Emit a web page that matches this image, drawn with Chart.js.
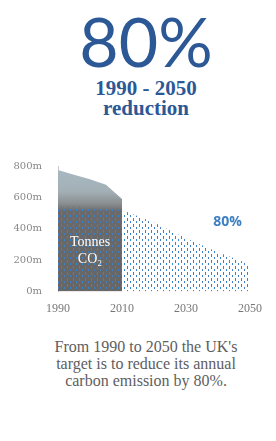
<!DOCTYPE html>
<html lang="en">
<head>
<meta charset="UTF-8">
<title>80% reduction</title>
<script src="https://cdn.jsdelivr.net/npm/chart.js"></script>
<style>
    html, body { margin: 0; padding: 0; background: #fff; }
    body { width: 276px; height: 441px; position: relative; overflow: hidden; }
    .big { position: absolute; top: 6px; left: 16px; width: 260px; text-align: center;
           font-family: Lato, sans-serif; font-size: 68px; line-height: 70px; color: #2c5896; }
    .sub { position: absolute; top: 78px; left: 16px; width: 260px; text-align: center;
           font-family: "Liberation Serif", serif; font-weight: bold;
           font-size: 21px; line-height: 20px; color: #2c5896; }
    .chart-box { position: absolute; top: 152px; left: 0; width: 276px; height: 166px; }
    .note { position: absolute; top: 338px; left: 16px; width: 260px; text-align: center;
            font-family: "Liberation Serif", serif; font-size: 16px; line-height: 17px; color: #5e5e5e; }
</style>
</head>
<body>
    <div class="big">80%</div>
    <div class="sub">1990 - 2050<br>reduction</div>
    <div class="chart-box"><canvas id="co2Chart"></canvas></div>
    <div class="note">From 1990 to 2050 the UK's<br>target is to reduce its annual<br>carbon emission by 80%.</div>

<script>
    // historical emissions (million tonnes CO2)
    const histYears = [1990, 1995, 2000, 2005, 2010];
    const histValues = [775, 745, 715, 680, 590];
    // target path
    const targetYears = [1990, 2010, 2020, 2030, 2040, 2050];
    const targetValues = [555, 520, 440, 340, 250, 175];
    const yTicks = [0, 200, 400, 600, 800];
    const xTicks = [1990, 2010, 2030, 2050];

    function dotPattern(color) {
        const c = document.createElement('canvas');
        c.width = 6; c.height = 6;
        const g = c.getContext('2d');
        g.fillStyle = color;
        g.fillRect(1, 0, 1, 3);
        g.fillRect(4, 3, 1, 2);
        return g.createPattern(c, 'repeat');
    }

    const labelsPlugin = {
        id: 'labels',
        afterDatasetsDraw(chart) {
            const ctx = chart.ctx;
            const x = chart.scales.x, y = chart.scales.y;
            ctx.save();
            ctx.textAlign = 'center';
            ctx.fillStyle = '#ffffff';
            ctx.font = '14px "Liberation Serif", serif';
            ctx.fillText('Tonnes', x.getPixelForValue(2000), y.getPixelForValue(290));
            ctx.fillText('CO\u2082', x.getPixelForValue(2000), y.getPixelForValue(185));
            ctx.fillStyle = '#3d7fc4';
            ctx.font = 'bold 14px "Open Sans", sans-serif';
            ctx.fillText('80%', x.getPixelForValue(2043), y.getPixelForValue(420));
            ctx.restore();
        }
    };

    const ctx = document.getElementById('co2Chart').getContext('2d');
    const co2Chart = new Chart(ctx, {
        type: 'line',
        data: {
            datasets: [{
                label: 'Target',
                data: targetYears.map((yr, i) => ({ x: yr, y: targetValues[i] })),
                borderWidth: 0,
                pointRadius: 0,
                fill: 'origin',
                backgroundColor: dotPattern('#3b82c8'),
                order: 1
            }, {
                label: 'Historical',
                data: histYears.map((yr, i) => ({ x: yr, y: histValues[i] })),
                borderWidth: 0,
                pointRadius: 0,
                fill: 'origin',
                backgroundColor: function (context) {
                    const area = context.chart.chartArea;
                    if (!area) return '#6e6e6e';
                    const g = context.chart.ctx.createLinearGradient(0, area.top, 0, area.bottom);
                    g.addColorStop(0, '#a9bac3');
                    g.addColorStop(0.2, '#a3b0b6');
                    g.addColorStop(0.3, '#8a8e90');
                    g.addColorStop(0.36, '#6a6a6c');
                    g.addColorStop(1, '#666666');
                    return g;
                },
                order: 2
            }]
        },
        options: {
            responsive: true,
            maintainAspectRatio: false,
            animation: false,
            layout: { padding: { top: 6, right: 26, bottom: 0, left: 0 } },
            plugins: { legend: { display: false }, tooltip: { enabled: false } },
            scales: {
                x: {
                    type: 'linear',
                    min: 1990, max: 2050,
                    grid: { display: false },
                    border: { display: false },
                    afterBuildTicks: (s) => { s.ticks = xTicks.map(v => ({ value: v })); },
                    ticks: {
                        color: '#777',
                        font: { family: '"Liberation Serif", serif', size: 12 },
                        padding: 2,
                        callback: (v) => String(v)
                    }
                },
                y: {
                    min: 0, max: 800,
                    grid: { display: false },
                    border: { display: true, color: '#c8c8c8', width: 1 },
                    afterBuildTicks: (s) => { s.ticks = yTicks.map(v => ({ value: v })); },
                    afterFit: (s) => { s.width = 58; },
                    ticks: {
                        color: '#888',
                        font: { family: '"DejaVu Serif", serif', size: 10 },
                        padding: 8,
                        callback: (v) => v + 'm'
                    }
                }
            }
        },
        plugins: [labelsPlugin]
    });
</script>
</body>
</html>
